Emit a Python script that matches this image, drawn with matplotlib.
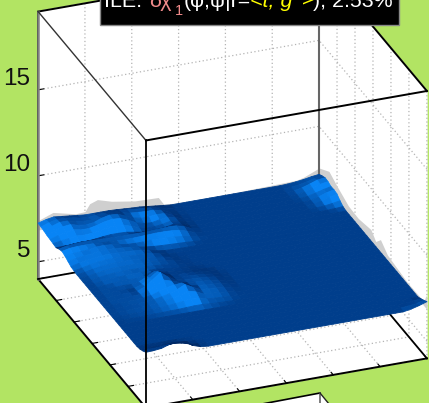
import numpy as np
import matplotlib
matplotlib.use("Agg")
import matplotlib.pyplot as plt
from matplotlib.patches import Rectangle, Polygon
from matplotlib.lines import Line2D
from matplotlib.ticker import NullFormatter
from mpl_toolkits.mplot3d.art3d import Poly3DCollection

plt.rcParams['font.family'] = ['Liberation Sans', 'DejaVu Sans']

# ---------- data ----------
phi_ticks = [-180, -120, -60, 0, 60, 120, 180]
psi_ticks = [-180, -120, -60, 0, 60, 120, 180]
z_ticks = [5, 10, 15]
z_limits = (4.0, 19.55)
plane_level = 6.95

# height above plane (hundredths), rows phi -180.. step 10, columns psi -180.. step 10
left_rows = [
 [30,42,50,45,40,35,30,30,30,30,28,25,22,20,15,10,5,0],
 [28,45,55,55,50,40,35,40,45,45,42,40,35,32,28,20,10,2],
 [25,45,60,60,50,42,40,50,60,60,52,42,38,35,35,25,12,3],
 [20,40,55,60,48,42,48,65,75,72,55,35,25,25,30,28,15,3],
 [18,32,42,50,42,42,52,65,72,68,50,28,15,12,20,28,18,4],
 [15,22,28,35,32,35,42,52,55,50,36,20,10,10,15,25,18,5],
 [12,12,14,18,18,22,28,32,32,30,22,14,10,12,18,28,22,6],
 [25,35,40,42,42,40,38,36,35,35,35,36,38,40,42,40,28,8],
 [32,42,45,45,45,42,40,38,36,36,38,40,42,42,40,35,22,6],
 [25,32,35,38,46,48,44,36,30,28,28,30,30,28,25,20,12,3],
 [15,24,30,36,42,44,42,38,34,28,20,15,12,10,8,6,3,0],
 [5,18,26,32,38,40,38,36,34,30,22,10,4,2,1,0,0,0],
 [2,10,20,28,32,34,34,32,30,28,24,14,4,1,0,0,0,0],
 [0,6,15,24,28,30,30,30,28,26,22,16,6,1,0,0,0,0],
 [0,4,12,20,24,26,26,26,26,24,20,14,8,2,0,0,0,0],
 [0,3,10,16,20,22,22,22,24,22,18,12,8,3,0,0,0,0],
 [0,2,8,14,16,18,20,20,24,24,18,12,8,4,1,0,0,0],
 [0,2,6,10,14,14,14,22,34,30,20,14,10,8,4,1,0,0],
 [0,2,6,8,10,8,14,36,60,42,24,18,16,14,10,6,1,0],
 [0,2,6,8,8,6,20,50,80,55,30,22,22,20,16,10,3,0],
 [0,2,6,8,10,8,28,60,95,60,36,30,26,24,20,14,5,0],
 [0,2,6,8,10,12,24,46,72,58,44,34,28,26,22,16,6,0],
 [0,2,5,8,10,12,18,32,48,56,60,38,28,26,22,16,6,0],
 [0,2,5,7,9,12,16,24,34,50,72,48,26,24,20,14,5,0],
 [0,2,4,6,8,10,14,20,28,38,54,42,22,18,15,10,3,0],
 [0,1,2,4,5,7,10,14,18,24,32,28,14,10,8,5,1,0],
 [0,0,1,1,2,3,4,5,6,8,10,10,6,4,2,1,0,0],
]
front_rows = [
 [5,6,6,8,8,4,2,0,0,0,0,0,0,0,0,0,0,0],
 [15,18,20,25,28,22,8,2,0,0,0,0,0,0,0,0,0,0],
 [28,30,35,50,55,50,20,5,0,0,0,0,0,0,0,0,0,0],
]
back_corner_rows = [
 [0,2,6,12,20,26],
 [0,3,9,18,30,38],
 [0,3,12,26,42,48],
 [0,2,9,22,38,46],
 [0,1,5,16,28,38],
 [0,0,3,14,30,40],
 [0,0,3,10,24,36],
 [0,0,1,4,10,18],
 [0,0,0,0,2,5],
]
right_corner_rows = [
 [0,5,10],
 [5,10,22],
 [8,20,35],
]

# grey silhouette on the phi=-180 wall
wall1_psi = [-180,-161,-132,-120,-114,-104,-86,-56,-26,-19,0,60,151,160,180]
wall1_top = [7.4,7.72,7.41,7.44,7.85,8.01,7.77,7.55,7.51,7.06,7.0,7.0,7.1,7.2,7.58]
# grey silhouette on the psi=180 wall
wall2_phi = [-180,-147,-121,-82,-49,-7,9,25,48,114,170,177,180]
wall2_top = [7.58,8.07,7.78,7.41,7.37,7.6,7.24,7.68,7.27,7.06,7.1,7.6,7.47]
wall_bottom = 6.85

# ---------- figure ----------
W, H = 429, 403
fig = plt.figure(figsize=(W/100, H/100), dpi=100, facecolor='#B2E463')
side = 506
cx, cy = 232.5, 403-185
ax = fig.add_axes([(cx-0.5135*side)/W, (cy-0.5135*side)/H, side/W, side/H],
                  projection='3d', proj_type='ortho')
ax.patch.set_visible(False)
ax.computed_zorder = False
ax.set_box_aspect((1, 1, 1), zoom=1.0)
ax.view_init(elev=27.3, azim=-21)
ax.set_xlim(-180, 180, view_margin=0)
ax.set_ylim(-180, 180, view_margin=0)
ax.set_zlim(*z_limits, view_margin=0)
ax.set_xticks(phi_ticks); ax.set_yticks(psi_ticks); ax.set_zticks(z_ticks)
for axis in (ax.xaxis, ax.yaxis, ax.zaxis):
    axis.set_major_formatter(NullFormatter())
ax.zaxis.set_ticks_position('lower')
for v in z_ticks:
    ax.text(-180, -190, v + 0.69, str(v), fontsize=17.5, ha='right', va='center', color='#111111', zorder=4)

for axis in (ax.xaxis, ax.yaxis, ax.zaxis):
    axis.set_pane_color((1, 1, 1, 1))
    axis.pane.set_edgecolor('white')
    axis._axinfo['grid'].update(color='#b4b4b4', linewidth=0.9, linestyle=(0, (1, 2)))
    axis._axinfo['tick'].update(inward_factor=0.0, outward_factor=0.25)
    axis._axinfo['axisline'].update(color='black', linewidth=1.4)
    axis.line.set_color('black')
    axis.line.set_linewidth(1.4)

# surface
n = 37
grid = np.arange(-180, 181, 10)
P, S = np.meshgrid(grid, grid, indexing='ij')
Z = np.zeros((n, n))
L = np.array(left_rows, float); Z[:L.shape[0], :L.shape[1]] = L
F = np.array(front_rows, float); Z[34:37, :F.shape[1]] = F
B = np.array(back_corner_rows, float); Z[:B.shape[0], 31:37] = B
R = np.array(right_corner_rows, float); Z[34:37, 34:37] = R
height = plane_level + Z/100.0

dz_u = (Z[1:, :-1] + Z[1:, 1:] - Z[:-1, :-1] - Z[:-1, 1:]) / 2
dz_v = (Z[:-1, 1:] + Z[1:, 1:] - Z[:-1, :-1] - Z[1:, :-1]) / 2
mean_h = (Z[:-1, :-1] + Z[1:, :-1] + Z[:-1, 1:] + Z[1:, 1:]) / 4
t = np.clip(mean_h/30.0, 0, 1)*0.46 + (-0.04*dz_u + 0.026*dz_v)
t = np.clip(t, -0.5, 1)
dark = np.array([0, 62, 140])/255
bright = np.array([8, 132, 245])/255
shadow = np.array([0, 40, 100])/255
fc = np.zeros(t.shape + (4,))
for c in range(3):
    fc[..., c] = np.where(t >= 0, dark[c] + (bright[c]-dark[c])*t,
                          dark[c] + (shadow[c]-dark[c])*(-t/0.5))
fc[..., 3] = 1

# grey wall silhouettes
def wall_poly(xs, ys, bottom, tops):
    return [(x, y, b) for x, y, b in zip(xs, ys, bottom)] + \
           [(x, y, z) for x, y, z in zip(xs[::-1], ys[::-1], tops[::-1])]
n1 = len(wall1_psi); n2 = len(wall2_phi)
g = '#cfcfcf'
ax.add_collection3d(Poly3DCollection([wall_poly([-180]*n1, wall1_psi, [wall_bottom]*n1, wall1_top)],
                    facecolors=g, edgecolors=g, linewidths=0, zorder=1.5))
ax.add_collection3d(Poly3DCollection([wall_poly(wall2_phi, [180]*n2, [wall_bottom]*n2, wall2_top)],
                    facecolors=g, edgecolors=g, linewidths=0, zorder=1.5))

surf = ax.plot_surface(P, S, height, facecolors=fc, rstride=1, cstride=1, shade=False,
                       linewidth=0.6, antialiased=True, zorder=2)

# box edges
z0, z1 = z_limits
edges = [
    ((180, -180, z0), (180, -180, z1), 'black', 1.3, 3),   # front vertical
    ((-180, -180, z1), (180, -180, z1), '#333333', 1.0, 3),
    ((180, -180, z1), (180, 180, z1), 'black', 1.4, 3),
    ((-180, -180, z1), (-180, 180, z1), 'black', 1.4, 1.6),
    ((-180, 180, z1), (180, 180, z1), 'black', 1.4, 1.6),
    ((-180, -180, z0), (-180, -180, z1), '#808080', 1.8, 1.6),
    ((-180, 180, z0), (-180, 180, z1), '#666666', 1.5, 1.6),
    ((-180, -180, z0), (-180, 180, z0), 'black', 1.3, 1.6),
    ((-180, 180, z0), (180, 180, z0), 'black', 1.3, 1.6),
]
for a, b, col, lw, zo in edges:
    ax.plot([a[0], b[0]], [a[1], b[1]], [a[2], b[2]], color=col, lw=lw, zorder=zo)

# ---------- overlays in pixel space ----------
def fx(x): return x/W
def fy(y): return 1 - y/H

fig.add_artist(Rectangle((fx(100), fy(25)), 299/W, 30/H, transform=fig.transFigure,
                         facecolor='black', edgecolor='#888888', linewidth=1, zorder=5))
fs = 15.4
salmon = '#F08A8A'; yellow = '#FFFF00'
pieces = [
    (104, 7, 'ILE:', 'white', fs, 'normal'),
    (149, 7, 'δχ', salmon, fs, 'normal'),
    (175, 15, '1', salmon, 10.5, 'normal'),
    (184, 7, '(φ,ψ|r=', 'white', fs, 'normal'),
    (250, 7, '<t, g', yellow, fs, 'italic'),
    (293, 2, '-', yellow, 10, 'normal'),
    (302, 7, '>', yellow, fs, 'normal'),
    (313, 7, '), 2.53%', 'white', fs, 'normal'),
]
for x, y, s, col, size, style in pieces:
    fig.text(fx(x), fy(y), s, color=col, fontsize=size, style=style, va='baseline', ha='left', zorder=6)

# top of the neighbouring panel at the bottom edge
fig.add_artist(Polygon([(fx(262), fy(404)), (fx(320), fy(393)), (fx(329), fy(404))], closed=True,
                       transform=fig.transFigure, facecolor='white', edgecolor='none', zorder=5))
fig.add_artist(Line2D([fx(262), fx(320)], [fy(404), fy(393)], color='black', lw=1.2, zorder=6))
fig.add_artist(Line2D([fx(320), fx(320)], [fy(393), fy(404)], color='#666666', lw=1.2, zorder=6))
fig.add_artist(Line2D([fx(320), fx(329)], [fy(393), fy(404)], color='#222222', lw=1.0, zorder=6))

fig.savefig('out.png', dpi=100, facecolor=fig.get_facecolor())
